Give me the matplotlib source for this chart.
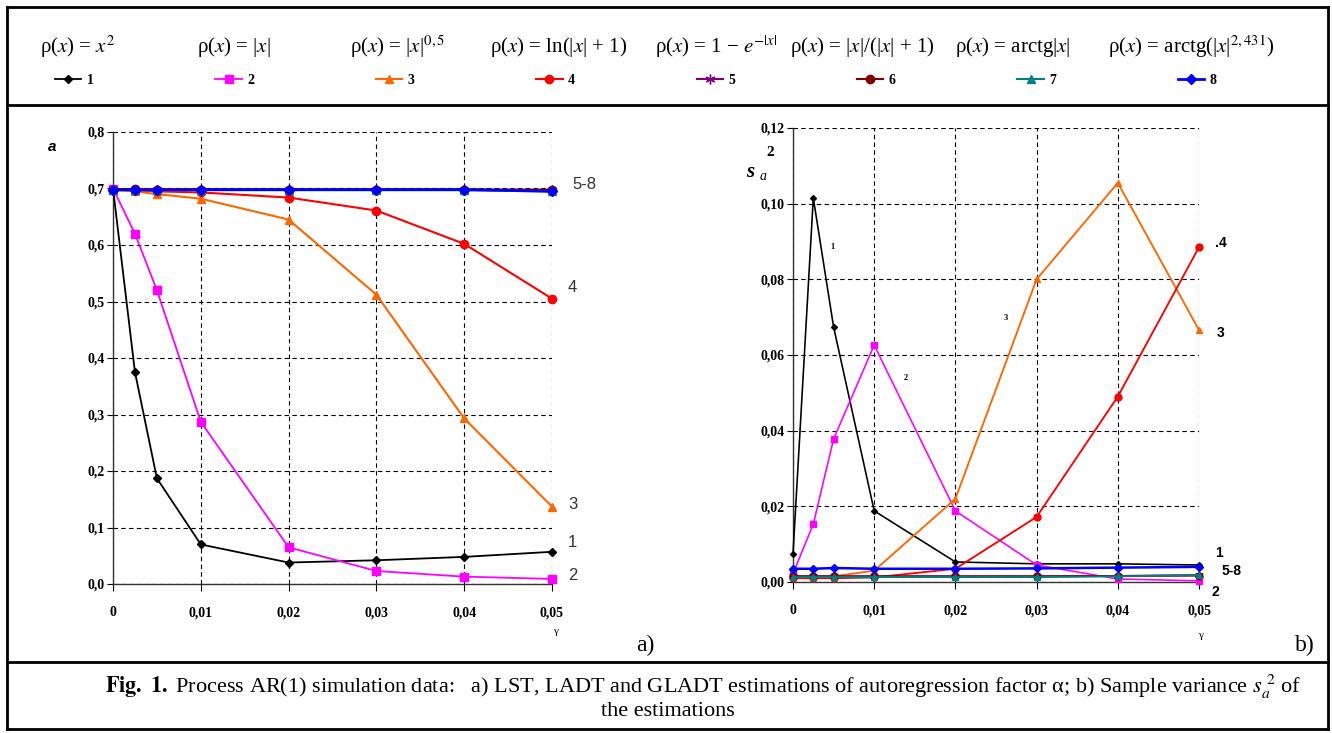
import matplotlib
matplotlib.use("Agg")
import matplotlib.pyplot as plt
from matplotlib.lines import Line2D

plt.rcParams['font.family'] = ['Liberation Serif', 'DejaVu Serif']
plt.rcParams['mathtext.fontset'] = 'stix'

# gamma values (x axis)
gamma = [0, 0.0025, 0.005, 0.01, 0.02, 0.03, 0.04, 0.05]

# panel a) estimations of alpha
a_1 = [0.700, 0.375, 0.187, 0.070, 0.038, 0.042, 0.048, 0.057]
a_2 = [0.700, 0.620, 0.520, 0.287, 0.065, 0.023, 0.013, 0.009]
a_3 = [0.697, 0.695, 0.690, 0.682, 0.645, 0.512, 0.293, 0.137]
a_4 = [0.698, 0.697, 0.695, 0.693, 0.684, 0.661, 0.602, 0.505]
a_5 = [0.698, 0.698, 0.698, 0.698, 0.698, 0.698, 0.698, 0.697]
a_6 = [0.698, 0.699, 0.698, 0.698, 0.698, 0.698, 0.698, 0.698]
a_7 = [0.697, 0.697, 0.697, 0.697, 0.697, 0.697, 0.697, 0.695]
a_8 = [0.698, 0.698, 0.698, 0.698, 0.698, 0.698, 0.698, 0.695]

# panel b) sample variance
s_1 = [0.0074, 0.1015, 0.0674, 0.0188, 0.0053, 0.0048, 0.0048, 0.0045]
s_2 = [0.0022, 0.0153, 0.0378, 0.0626, 0.0188, 0.0045, 0.0008, 0.0003]
s_3 = [0.0015, 0.0015, 0.0015, 0.0030, 0.0220, 0.0800, 0.1055, 0.0666]
s_4 = [0.0010, 0.0010, 0.0010, 0.0012, 0.0035, 0.0172, 0.0490, 0.0885]
s_5 = [0.0015, 0.0015, 0.0015, 0.0015, 0.0015, 0.0015, 0.0016, 0.0018]
s_6 = [0.0015, 0.0015, 0.0015, 0.0015, 0.0015, 0.0015, 0.0016, 0.0017]
s_7 = [0.0013, 0.0013, 0.0013, 0.0013, 0.0013, 0.0013, 0.0015, 0.0018]
s_8 = [0.0035, 0.0035, 0.0037, 0.0035, 0.0035, 0.0036, 0.0038, 0.0040]

series_nums = ['1', '2', '3', '4', '5', '6', '7', '8']
formulas = [
    r'ρ($x$) = $x^{2}$',
    r'ρ($x$) = |$x$|',
    r'ρ($x$) = |$x$|$^{0,5}$',
    r'ρ($x$) = ln(|$x$| + 1)',
    r'ρ($x$) = 1 − $e^{-|x|}$',
    r'ρ($x$) = |$x$|/(|$x$| + 1)',
    r'ρ($x$) = arctg|$x$|',
    r'ρ($x$) = arctg(|$x$|$^{2,431}$)',
]
a_xticks = ['0', '0,01', '0,02', '0,03', '0,04', '0,05']
a_yticks = ['0,0', '0,1', '0,2', '0,3', '0,4', '0,5', '0,6', '0,7', '0,8']
b_yticks = ['0,00', '0,02', '0,04', '0,06', '0,08', '0,10', '0,12']

colors = ['black', '#FF00FF', '#FF6600', '#FF0000', '#800080', '#800000', '#008080', '#0000FF']
markers = ['D', 's', '^', 'o', (6, 2, 0), 'o', '^', 'D']
msizes = [4, 6, 6, 6, 7, 6, 6, 5]
lwidths = [1.3, 1.3, 1.5, 1.5, 1.5, 1.5, 1.5, 2.0]

W, H = 1332, 733
fig = plt.figure(figsize=(W / 100, H / 100), dpi=100)


def fx(px):
    return px / W


def fy(py):
    return 1 - py / H


def style_axes(ax, ylim, yticks, ylabels):
    ax.set_xlim(0, 0.05)
    ax.set_ylim(*ylim)
    ax.set_xticks([0, 0.01, 0.02, 0.03, 0.04, 0.05])
    ax.set_xticklabels(a_xticks)
    ax.set_yticks(yticks)
    ax.set_yticklabels(ylabels)
    for side in ['top', 'right']:
        ax.spines[side].set_visible(False)
    for side in ['left', 'bottom']:
        ax.spines[side].set_color('#333333')
        ax.spines[side].set_linewidth(1.0)
    ax.grid(True, color='black', linestyle=(0, (4, 3)), linewidth=0.8)
    ax.tick_params(axis='x', length=5, pad=11, labelsize=10, direction='out')
    ax.tick_params(axis='y', length=4, pad=2, labelsize=10, direction='out')
    for lab in ax.get_xticklabels() + ax.get_yticklabels():
        lab.set_fontweight('bold')
    ax.set_axisbelow(True)


# panel a
ax1 = fig.add_axes([fx(113), fy(584), fx(552 - 113), (584 - 132) / H])
a_data = [a_1, a_2, a_3, a_4, a_5, a_6, a_7, a_8]
handles = []
for i, ys in enumerate(a_data):
    h, = ax1.plot(gamma, ys, color=colors[i], marker=markers[i], markersize=msizes[i],
                  linewidth=lwidths[i], clip_on=False, zorder=3 + i)
    handles.append(h)
style_axes(ax1, (0, 0.8), [0.1 * k for k in range(9)], a_yticks)

a_labels = [('5-8', a_8, 20, 7), ('4', a_4, 16, 11), ('3', a_3, 16, 2),
            ('1', a_1, 16, 9), ('2', a_2, 16, 3)]
for txt, ys, dx, dy in a_labels:
    ax1.annotate(txt, (gamma[-1], ys[-1]), xytext=(dx, dy), textcoords='offset pixels',
                 fontsize=12, family='Liberation Sans', color='#333333',
                 ha='left', va='center', annotation_clip=False)

fig.text(fx(52), fy(147), 'a', fontsize=11, fontweight='bold', style='italic',
         family='Liberation Sans', ha='center', va='center')
fig.text(fx(555), fy(632), 'γ', fontsize=8, ha='center', va='center')
fig.text(fx(645), fy(645), 'a)', fontsize=17, ha='center', va='center')

# panel b
ax2 = fig.add_axes([fx(793), fy(582), fx(1199 - 793), (582 - 128) / H])
s_data = [s_1, s_2, s_3, s_4, s_5, s_6, s_7, s_8]
for i, ys in enumerate(s_data):
    ax2.plot(gamma, ys, color=colors[i], marker=markers[i], markersize=msizes[i] - 1,
             linewidth=lwidths[i] * 0.9, clip_on=False, zorder=3 + i)
style_axes(ax2, (0, 0.12), [0.02 * k for k in range(7)], b_yticks)

b_labels = [('.4', s_4, 16, 4), ('3', s_3, 18, -3), ('1', s_1, 16, 12),
            ('5-8', s_8, 23, -4), ('2', s_2, 12, -11)]
for txt, ys, dx, dy in b_labels:
    ax2.annotate(txt, (gamma[-1], ys[-1]), xytext=(dx, dy), textcoords='offset pixels',
                 fontsize=10, fontweight='bold', family='Liberation Sans',
                 ha='left', va='center', annotation_clip=False)

inline_b = [('1', 0.0049, 0.0885), ('2', 0.0139, 0.0539), ('3', 0.0262, 0.0697)]
for txt, xv, yv in inline_b:
    ax2.text(xv, yv, txt, fontsize=6, fontweight='bold', ha='center', va='center')

fig.text(fx(750), fy(172), 's', fontsize=15, fontweight='bold', style='italic',
         ha='center', va='center')
fig.text(fx(763), fy(176), 'a', fontsize=10, style='italic', ha='center', va='center')
fig.text(fx(770), fy(152), '2', fontsize=11, fontweight='bold', ha='center', va='center')
fig.text(fx(1200), fy(635), 'γ', fontsize=8, ha='center', va='center')
fig.text(fx(1305), fy(645), 'b)', fontsize=17, ha='center', va='center')

# legend band
formula_x = [40, 197, 350, 490, 655, 790, 955, 1108]
for fxp, ftxt in zip(formula_x, formulas):
    fig.text(fx(fxp), fy(47), ftxt, fontsize=15, ha='left', va='center')

fig.legend(handles, series_nums, ncol=8, loc='center left',
           bbox_to_anchor=(fx(55), fy(80)), frameon=False, borderpad=0,
           borderaxespad=0, handlelength=1.9, handletextpad=0.4,
           columnspacing=8.75, prop={'weight': 'bold', 'size': 10})

# caption
fig.text(fx(703), fy(687),
         r'$\mathbf{Fig.\ 1.}$ Process AR(1) simulation data:   a) LST, LADT and GLADT '
         r'estimations of autoregression factor α; b) Sample variance $s_a^{\ 2}$ of',
         fontsize=16, ha='center', va='center')
fig.text(fx(668), fy(711), 'the estimations', fontsize=16, ha='center', va='center')

# frame
frame = [((7, 7), (1328, 7)), ((7, 729), (1328, 729)), ((7, 7), (7, 729)),
         ((1328, 7), (1328, 729)), ((7, 105), (1328, 105)), ((7, 662), (1328, 662))]
for (x0, y0), (x1, y1) in frame:
    fig.add_artist(Line2D([fx(x0), fx(x1)], [fy(y0), fy(y1)], color='black', linewidth=2))

fig.savefig('out.png', dpi=100)
